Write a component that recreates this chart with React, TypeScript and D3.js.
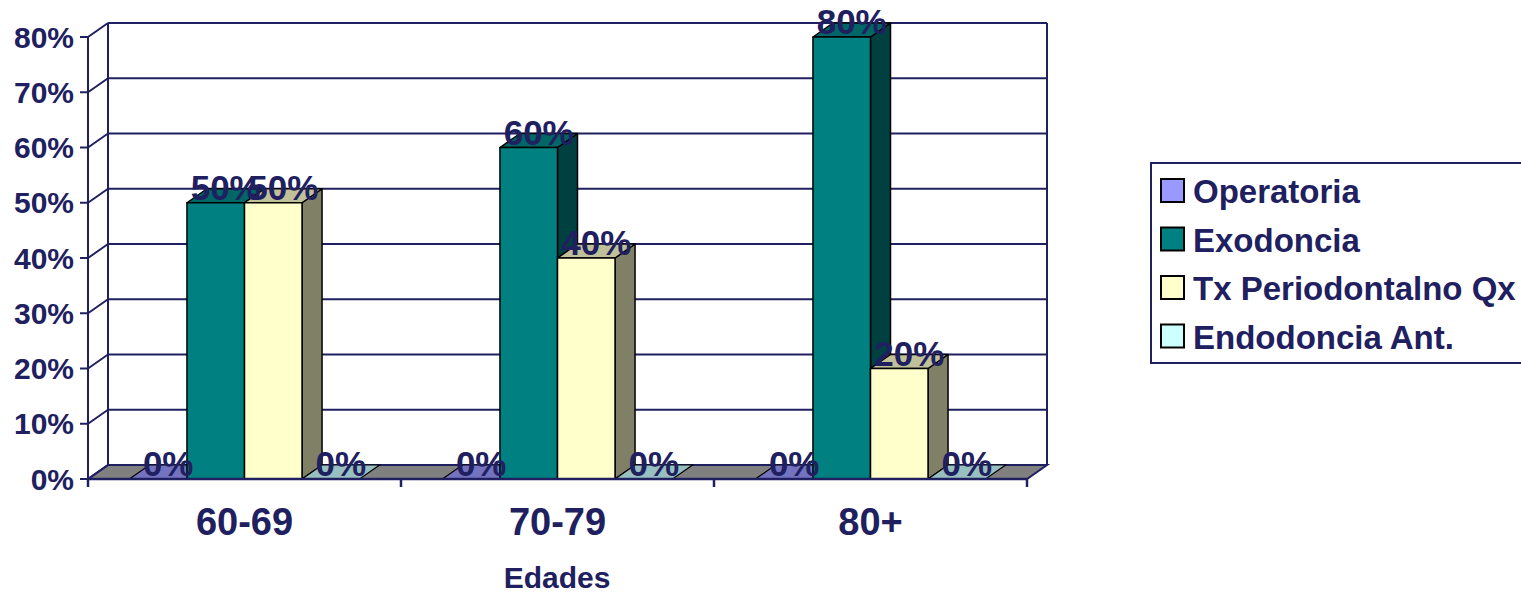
import React from "react";
import * as d3 from "d3";

const categories = ["60-69", "70-79", "80+"];
const series = ["Operatoria", "Exodoncia", "Tx Periodontalno Qx", "Endodoncia Ant."];
const operatoria = [0, 0, 0];
const exodoncia = [0.5, 0.6, 0.8];
const txPeriodontal = [0.5, 0.4, 0.2];
const endodoncia = [0, 0, 0];
const yTicks = [0, 0.1, 0.2, 0.3, 0.4, 0.5, 0.6, 0.7, 0.8];
const seriesValues = [operatoria, exodoncia, txPeriodontal, endodoncia];

const frontColors = ["#9999FF", "#008080", "#FFFFCC", "#CCFFFF"];
const topColors = ["#7373C0", "#006666", "#C0C099", "#99C0C0"];
const sideColors = ["#4D4D80", "#004040", "#808066", "#668080"];

const NAVY = "#202060";
const FONT = "'Liberation Sans', Arial, sans-serif";

export default function App() {
  const W = 1521, H = 594;
  const left = 88, right = 1027, top = 37, bottom = 479;
  const DX = 20, DY = -14;

  const x0 = d3.scaleBand<string>().domain(categories).range([left, right]);
  const x1 = d3.scaleBand<string>().domain(series).range([0, x0.bandwidth()]).paddingInner(0).paddingOuter(0.72);
  const y = d3.scaleLinear().domain([0, 0.8]).range([bottom, top]);
  const fmt = d3.format(".0%");
  const bw = x1.bandwidth();

  const poly = (pts: [number, number][]) => pts.map((p) => p.join(",")).join(" ");

  const bars: any[] = [];
  const labels: any[] = [];
  categories.forEach((c, ci) => {
    series.forEach((s, si) => {
      const v = seriesValues[si][ci];
      const xl = (x0(c) as number) + (x1(s) as number);
      const xr = xl + bw;
      const yt = y(v);
      const yb = y(0);
      const key = `${ci}-${si}`;
      if (v > 0) {
        bars.push(
          <g key={key} stroke="#000" strokeWidth={1.5} strokeLinejoin="round">
            <polygon points={poly([[xr, yb], [xr + DX, yb + DY], [xr + DX, yt + DY], [xr, yt]])} fill={sideColors[si]} />
            <polygon points={poly([[xl, yt], [xr, yt], [xr + DX, yt + DY], [xl + DX, yt + DY]])} fill={topColors[si]} />
            <rect x={xl} y={yt} width={bw} height={yb - yt} fill={frontColors[si]} />
          </g>
        );
      } else {
        bars.push(
          <polygon key={key} points={poly([[xl, yb], [xr, yb], [xr + DX, yb + DY], [xl + DX, yb + DY]])}
            fill={topColors[si]} stroke="#000" strokeWidth={1.2} />
        );
      }
      labels.push(
        <text key={"l" + key} x={(xl + xr + DX) / 2} y={yt - 3} textAnchor="middle"
          fontFamily={FONT} fontWeight="bold" fontSize={35} fill={NAVY}>{fmt(v)}</text>
      );
    });
  });

  return (
    <div style={{ position: "fixed", left: 0, top: 0 }}>
      <svg width={W} height={H} viewBox={`0 0 ${W} ${H}`} style={{ display: "block", background: "#fff" }}>
        {/* back wall */}
        <rect x={left + DX} y={top + DY} width={right - left} height={bottom - top} fill="#fff" />
        {/* floor */}
        <polygon points={poly([[left, bottom], [right, bottom], [right + DX, bottom + DY], [left + DX, bottom + DY]])}
          fill="#808080" stroke={NAVY} strokeWidth={2} />
        {/* gridlines */}
        {yTicks.map((t) => (
          <g key={"g" + t} stroke={NAVY} strokeWidth={2} fill="none">
            {t > 0 && <line x1={left + DX} x2={right + DX} y1={y(t) + DY} y2={y(t) + DY} />}
            <line x1={left} y1={y(t)} x2={left + DX} y2={y(t) + DY} />
            <line x1={left - 8} x2={left} y1={y(t)} y2={y(t)} />
          </g>
        ))}
        <g stroke={NAVY} strokeWidth={2} fill="none">
          <line x1={left + DX} x2={left + DX} y1={top + DY} y2={bottom + DY} />
          <line x1={right + DX} x2={right + DX} y1={top + DY} y2={bottom + DY} />
          <line x1={left} x2={left} y1={top} y2={bottom + 8} />
        </g>
        {/* bars */}
        {bars}
        {/* front axis */}
        <g stroke={NAVY} strokeWidth={2.5} fill="none">
          <line x1={left} x2={right} y1={bottom} y2={bottom} />
          {[...categories.map((c) => x0(c) as number), right].map((xx, i) => (
            <line key={"t" + i} x1={xx} x2={xx} y1={bottom} y2={bottom + 8} />
          ))}
        </g>
        {/* y tick labels */}
        {yTicks.map((t) => (
          <text key={"y" + t} x={74} y={y(t) + 10.5} textAnchor="end" fontFamily={FONT} fontWeight="bold"
            fontSize={30} fill={NAVY}>{fmt(t)}</text>
        ))}
        {/* category labels */}
        {categories.map((c) => (
          <text key={"c" + c} x={(x0(c) as number) + x0.bandwidth() / 2} y={535} textAnchor="middle"
            fontFamily={FONT} fontWeight="bold" fontSize={38} fill={NAVY}>{c}</text>
        ))}
        <text x={557} y={588} textAnchor="middle" fontFamily={FONT} fontWeight="bold" fontSize={30} fill={NAVY}>Edades</text>
        {/* data labels */}
        {labels}
        {/* legend */}
        <rect x={1151} y={163} width={400} height={200} fill="#fff" stroke={NAVY} strokeWidth={2} />
        {series.map((s, i) => (
          <g key={"lg" + s}>
            <rect x={1161} y={179 + i * 48.5} width={23} height={23} fill={frontColors[i]} stroke="#000" strokeWidth={2} />
            <text x={1193} y={203 + i * 48.5} fontFamily={FONT} fontWeight="bold" fontSize={33} fill={NAVY}>{s}</text>
          </g>
        ))}
      </svg>
    </div>
  );
}
